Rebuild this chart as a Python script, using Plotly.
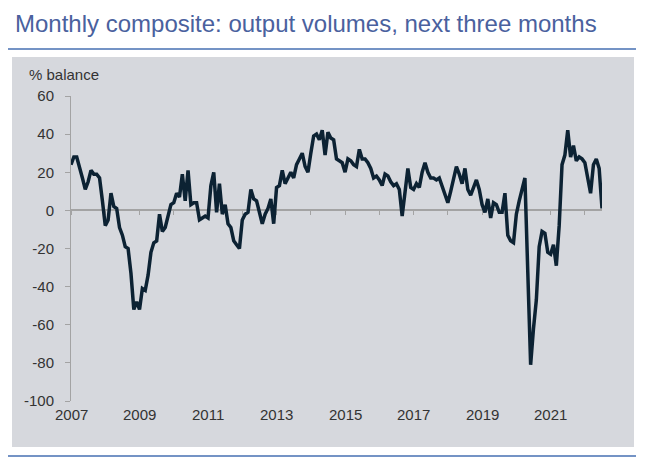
import plotly.graph_objects as go

# ---- data (monthly, Jan 2007 onwards; % balance) ----
start_year = 2007
balance = [
    24, 28, 28, 23, 17, 11, 15, 21, 19, 19, 17, 5,          # 2007
    -8, -5, 9, 2, 1, -9, -13, -19, -20, -33, -52, -48,      # 2008
    -52, -41, -42, -34, -22, -17, -16, -2, -11, -9, -3, 3,  # 2009
    4, 9, 7, 19, 5, 21, 3, 4, 4, -5, -4, -3,                # 2010
    -4, 13, 20, -1, 14, -2, 3, -7, -9, -16, -18, -20,       # 2011
    -5, -2, -1, 11, 6, 5, -1, -7, -2, 1, 6, -7,             # 2012
    12, 13, 21, 14, 17, 20, 17, 24, 27, 30, 23, 20,         # 2013
    30, 39, 40, 37, 42, 29, 41, 38, 37, 27, 26, 25,         # 2014
    20, 27, 26, 24, 23, 32, 27, 27, 25, 22, 17, 18,         # 2015
    16, 13, 19, 18, 15, 13, 14, 11, -3, 9, 22, 12,          # 2016
    11, 14, 12, 20, 25, 20, 17, 17, 16, 17, 13, 8,          # 2017
    4, 10, 16, 23, 19, 14, 22, 11, 8, 12, 16, 11,           # 2018
    3, -1, 6, -4, 4, 3, -1, -1, 9, -13, -16, -17,           # 2019
    -2, 5, 12, 17, -32, -81, -62, -47, -19, -11, -12, -22,  # 2020
    -23, -18, -29, -8, 24, 29, 42, 28, 34, 26, 28, 27,      # 2021
    25, 18, 9, 24, 27, 22, 1,                               # 2022
]
months = list(range(len(balance)))
year_ticks = list(range(0, len(balance), 12))
label_years = [2007, 2009, 2011, 2013, 2015, 2017, 2019, 2021]
label_vals = [(y - start_year) * 12 for y in label_years]
label_text = [str(y) for y in label_years]
y_ticks = [-100, -80, -60, -40, -20, 0, 20, 40, 60]
y_ticktext = [str(v) for v in y_ticks]

TITLE = "Monthly composite: output volumes, next three months"
UNIT = "% balance"

# ---- layout geometry (pixels, page coordinates; page body has an 8px margin) ----
W, H = 657, 471
OFF = 8
L, R, T, B = 71 - OFF, 602 - OFF, 96 - OFF, 401 - OFF


def px(x):
    return (x - OFF - L) / (R - L)


def py(y):
    return (B - (y - OFF)) / (B - T)


panel = "#D6D8DD"
blue = "#7493C5"
txt = "#333333"
axis_grey = "#A3A3A3"
font_family = "Liberation Sans, Arial, sans-serif"

fig = go.Figure()
fig.add_trace(go.Scatter(
    x=months, y=balance, mode="lines",
    line=dict(color="#0C2233", width=3.5),
    hoverinfo="skip", showlegend=False,
))

ymin, ymax = -100, 60
zero_pos = (0 - ymin) / (ymax - ymin)
xr = [0, len(balance) - 1]

annotations = [
    dict(text=TITLE, xref="paper", yref="paper", x=px(13), y=py(23),
         xanchor="left", yanchor="middle", showarrow=False,
         font=dict(size=24, color="#4A619E", family=font_family)),
    dict(text=UNIT, xref="paper", yref="paper", x=px(27), y=py(74),
         xanchor="left", yanchor="middle", showarrow=False,
         font=dict(size=15, color=txt, family=font_family)),
]
for v, t in zip(label_vals, label_text):
    annotations.append(dict(
        text=t, xref="x", yref="paper", x=v, y=py(414),
        xanchor="center", yanchor="middle", showarrow=False,
        font=dict(size=15, color=txt, family=font_family)))

fig.update_layout(
    width=W, height=H,
    margin=dict(l=L, r=W - R, t=T, b=H - B, autoexpand=False),
    paper_bgcolor="white",
    plot_bgcolor="rgba(0,0,0,0)",
    font=dict(family=font_family, size=15, color=txt),
    showlegend=False,
    xaxis=dict(
        range=xr, anchor="free", position=zero_pos,
        tickmode="array", tickvals=year_ticks, showticklabels=False,
        ticks="outside", ticklen=4, tickwidth=1, tickcolor=axis_grey,
        showline=True, linecolor=axis_grey, linewidth=2,
        showgrid=False, zeroline=False, layer="below traces",
    ),
    yaxis=dict(
        range=[ymin, ymax], tickmode="array", tickvals=y_ticks,
        ticktext=y_ticktext,
        ticks="outside", ticklen=5, tickwidth=1, tickcolor=axis_grey,
        showline=True, linecolor=axis_grey, linewidth=1,
        showgrid=False, zeroline=False, layer="below traces",
        tickfont=dict(size=15, color=txt), ticklabelstandoff=8,
    ),
    shapes=[
        dict(type="rect", xref="paper", yref="paper", layer="below",
             x0=px(12), x1=px(634), y0=py(447), y1=py(57),
             fillcolor=panel, line=dict(width=0)),
        dict(type="line", xref="paper", yref="paper",
             x0=px(8), x1=px(636), y0=py(49), y1=py(49),
             line=dict(color=blue, width=2)),
        dict(type="line", xref="paper", yref="paper",
             x0=px(8), x1=px(636), y0=py(456), y1=py(456),
             line=dict(color=blue, width=2)),
    ],
    annotations=annotations,
)

fig.write_html("out.html")
